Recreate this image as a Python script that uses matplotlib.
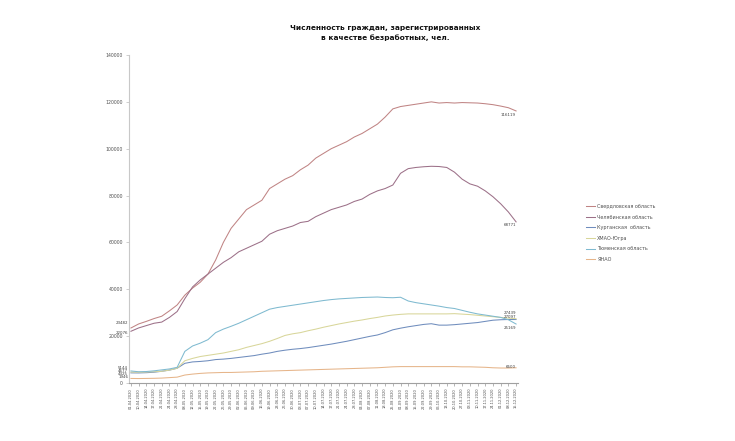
import matplotlib
matplotlib.use("Agg")
import matplotlib.pyplot as plt

dates = ["01.04.2020", "10.04.2020", "14.04.2020", "17.04.2020", "21.04.2020", "24.04.2020",
         "28.04.2020", "08.05.2020", "12.05.2020", "15.05.2020", "19.05.2020", "22.05.2020",
         "26.05.2020", "29.05.2020", "02.06.2020", "05.06.2020", "09.06.2020", "16.06.2020",
         "19.06.2020", "23.06.2020", "26.06.2020", "30.06.2020", "03.07.2020", "07.07.2020",
         "10.07.2020", "14.07.2020", "17.07.2020", "21.07.2020", "24.07.2020", "28.07.2020",
         "04.08.2020", "07.08.2020", "11.08.2020", "18.08.2020", "25.08.2020", "01.09.2020",
         "08.09.2020", "15.09.2020", "22.09.2020", "29.09.2020", "06.10.2020", "13.10.2020",
         "20.10.2020", "27.10.2020", "03.11.2020", "10.11.2020", "17.11.2020", "24.11.2020",
         "01.12.2020", "08.12.2020", "15.12.2020"]

sverdlovsk = [23482, 25200, 26300, 27500, 28500, 30800, 33300, 37500, 40500, 43000,
              46500, 52500, 60000, 66000, 70000, 74000, 76000, 78000, 83000, 85000,
              87000, 88500, 91000, 93000, 96000, 98000, 100000, 101500, 103000, 105000,
              106500, 108500, 110500, 113500, 117000, 118000, 118500, 119000, 119500, 120000,
              119500, 119700, 119500, 119700, 119600, 119500, 119200, 118800, 118200, 117500,
              116119]
chelyabinsk = [22076, 23500, 24500, 25500, 26000, 28000, 30500, 36000, 41000, 44000,
               46500, 49000, 51500, 53500, 56000, 57500, 59000, 60500, 63500, 65000,
               66000, 67000, 68500, 69000, 71000, 72500, 74000, 75000, 76000, 77500,
               78500, 80500, 82000, 83000, 84500, 89500, 91500, 92000, 92300, 92500,
               92400, 92000, 90000, 87000, 85000, 84000, 82000, 79500, 76500, 73000,
               68771]
kurgan = [4325, 4300, 4400, 4600, 5000, 5500, 6300, 8400, 9000, 9200,
          9500, 10000, 10200, 10500, 10900, 11300, 11700, 12300, 12800, 13500,
          14000, 14400, 14700, 15100, 15600, 16100, 16600, 17200, 17800, 18500,
          19200, 19900, 20500, 21500, 22700, 23400, 24000, 24500, 25000, 25300,
          24700, 24700, 24900, 25200, 25500, 25800, 26300, 26800, 27000, 27100,
          27097]
khmao = [4677, 4600, 4700, 4800, 5000, 5500, 6300, 9500, 10500, 11300,
         11800, 12300, 12800, 13500, 14200, 15200, 16000, 16800, 17800, 19000,
         20300, 21000, 21500, 22300, 23000, 23800, 24500, 25200, 25800, 26400,
         26900, 27500, 28000, 28600, 29000, 29300, 29500, 29500, 29500, 29500,
         29500, 29500, 29600, 29400, 29200, 28900, 28600, 28300, 28000, 27700,
         27439]
tyumen = [5144, 4800, 4900, 5200, 5600, 6000, 6700, 13500, 15800, 17000,
          18500, 21500, 23000, 24200, 25500, 27000, 28500, 30000, 31500, 32200,
          32700, 33200, 33700, 34200, 34700, 35200, 35600, 35900, 36100, 36300,
          36500, 36600, 36700, 36500, 36400, 36600, 35000, 34300, 33800, 33300,
          32800, 32200, 31800, 31000, 30200, 29500, 29000, 28500, 28000, 27000,
          25169]
yanao = [1946, 1900, 1950, 2000, 2100, 2300, 2500, 3400, 3800, 4100,
         4300, 4400, 4500, 4500, 4600, 4700, 4800, 5000, 5100, 5200,
         5300, 5400, 5500, 5600, 5700, 5800, 5900, 6000, 6100, 6200,
         6300, 6400, 6500, 6700, 6900, 7000, 7000, 7000, 7000, 7000,
         7000, 7000, 7000, 6900, 6900, 6800, 6700, 6500, 6400, 6400,
         6500]

series_names = ["Свердловская область", "Челябинская область", "Курганская  область",
                "ХМАО-Югра", "Тюменская область", "ЯНАО"]
series_values = [sverdlovsk, chelyabinsk, kurgan, khmao, tyumen, yanao]
colors = ["#c08484", "#9c7088", "#6f8dbd", "#d8d69a", "#7fbad0", "#e6b58a"]
# label offsets in points (start label, end label)
start_offsets = [(-2, 3.5), (-2, -1.0), (-2, -0.5), (-2, 0.8), (-2, 2.2), (-2, 0.8)]
end_offsets = [(0, -1.2), (0, -0.8), (0, 2.0), (0, 4.2), (0, -3.0), (0, 0.5)]
end_va = ["top", "top", "center", "center", "center", "center"]

fig = plt.figure(figsize=(7.35, 4.41), dpi=100)
ax = fig.add_axes([129 / 735, 1 - 383 / 441, (518 - 129) / 735, (383 - 55) / 441])

x = list(range(len(dates)))
handles = []
for name, vals, col, so, eo, eva in zip(series_names, series_values, colors,
                                        start_offsets, end_offsets, end_va):
    h, = ax.plot(x, vals, color=col, lw=0.75, label=name, solid_joinstyle="round")
    handles.append(h)
    ax.annotate(str(vals[0]), (x[0], vals[0]), xytext=so, textcoords="offset points",
                ha="right", va="center", fontsize=2.9, color="#404040")
    ax.annotate(str(vals[-1]), (x[-1], vals[-1]), xytext=eo, textcoords="offset points",
                ha="right", va=eva, fontsize=2.9, color="#404040")

ax.set_xlim(-0.25, len(dates) - 0.75)
ax.set_ylim(0, 140000)
ax.set_yticks(range(0, 140001, 20000))
ax.set_yticklabels([str(v) for v in range(0, 140001, 20000)], fontsize=3.3, color="#505050")
ax.set_xticks(x)
ax.set_xticklabels(dates, rotation=90, fontsize=2.6, color="#505050")
ax.tick_params(axis="y", length=2, width=0.5, color="#bbbbbb", pad=2.5)
ax.tick_params(axis="x", length=2, width=0.5, color="#999999", pad=1.5)
for s in ["top", "right"]:
    ax.spines[s].set_visible(False)
ax.spines["left"].set_color("#c8c8c8")
ax.spines["left"].set_linewidth(0.8)
ax.spines["bottom"].set_color("#a0a0a0")
ax.spines["bottom"].set_linewidth(0.8)

fig.text(385 / 735, 1 - 33 / 441,
         "Численность граждан, зарегистрированных\nв качестве безработных, чел.",
         ha="center", va="center", fontsize=5.3, fontweight="bold", color="#111111",
         linespacing=1.5)

leg = fig.legend(handles=handles, loc="upper left", bbox_to_anchor=(586 / 735, 1 - 204 / 441),
                 fontsize=3.5, frameon=False, handlelength=1.9, handletextpad=0.4,
                 labelspacing=1.15, borderaxespad=0, borderpad=0)
for t in leg.get_texts():
    t.set_color("#505050")

fig.savefig("out.png", dpi=100)
